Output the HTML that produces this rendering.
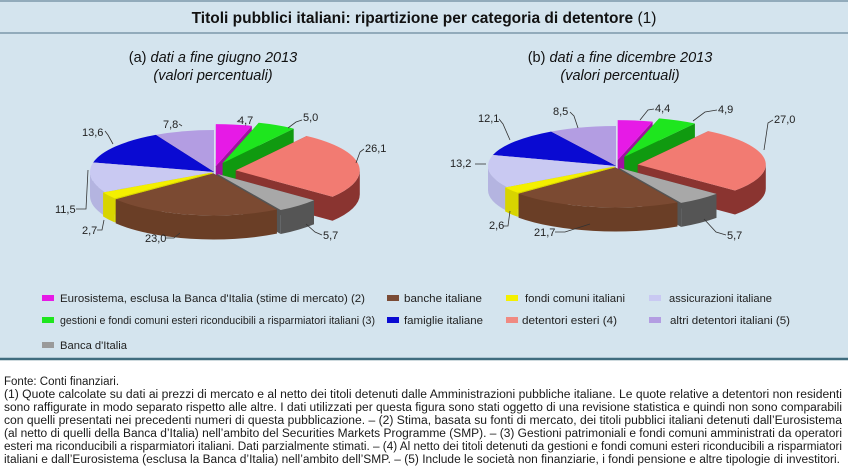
<!DOCTYPE html>
<html><head><meta charset="utf-8"><style>
html,body{margin:0;padding:0;background:#fff;}
svg{display:block;font-family:"Liberation Sans",Arial,sans-serif;}
</style></head><body>
<svg id="s" width="848" height="472" viewBox="0 0 848 472" xmlns="http://www.w3.org/2000/svg">
<rect x="0" y="0" width="848" height="359" fill="#d4e4ee"/>
<line x1="0" y1="1" x2="848" y2="1" stroke="#7d98aa" stroke-width="1.5"/>
<line x1="0" y1="33" x2="848" y2="33" stroke="#7d98aa" stroke-width="1.5"/>
<line x1="0" y1="359" x2="848" y2="359" stroke="#3f6c7e" stroke-width="2.5"/>
<text x="424" y="23" text-anchor="middle" font-size="15.5" font-weight="bold" fill="#111">Titoli pubblici italiani: ripartizione per categoria di detentore <tspan font-weight="normal">(1)</tspan></text>
<g font-size="14.5" fill="#111" text-anchor="middle">
<text x="213" y="62">(a) <tspan font-style="italic">dati a fine giugno 2013</tspan></text>
<text x="213" y="80" font-style="italic">(valori percentuali)</text>
<text x="620" y="62">(b) <tspan font-style="italic">dati a fine dicembre 2013</tspan></text>
<text x="620" y="80" font-style="italic">(valori percentuali)</text>
</g>
<g id="pies"></g>
<g font-size="11" fill="#222" stroke="#333" stroke-width="0.8">
<g stroke="none">
<text x="238" y="124">4,7</text><text x="303" y="121">5,0</text><text x="365" y="152">26,1</text>
<text x="323" y="239">5,7</text><text x="145" y="242">23,0</text><text x="82" y="234">2,7</text>
<text x="55" y="213">11,5</text><text x="82" y="136">13,6</text><text x="163" y="128">7,8</text>
<text x="655" y="112">4,4</text><text x="718" y="113">4,9</text><text x="774" y="123">27,0</text>
<text x="727" y="239">5,7</text><text x="534" y="236">21,7</text><text x="489" y="229">2,6</text>
<text x="450" y="167">13,2</text><text x="478" y="122">12,1</text><text x="553" y="115">8,5</text>
</g>
<g fill="none">
<polyline points="237,122 239,120"/><polyline points="302,120 296,122 288,128"/><polyline points="364,149 360,152 356,163"/>
<polyline points="322,235 315,232 306,224"/><polyline points="166,238 174,238 180,233"/><polyline points="97,230 102,230 104,220"/>
<polyline points="76,209 86,209 88,170"/><polyline points="105,131 108,135 113,144"/><polyline points="179,124 182,126"/>
<polyline points="654,109 648,110 640,120"/><polyline points="717,110 705,112 693,121"/><polyline points="773,120 768,123 764,150"/>
<polyline points="726,235 716,232 704,219"/><polyline points="555,232 565,232 590,224"/><polyline points="503,226 508,226 510,211"/>
<polyline points="475,164 486,164"/><polyline points="499,119 503,124 510,140"/><polyline points="570,112 574,116 578,128"/>
</g>
</g>
<g font-size="11" fill="#222">
<rect x="42" y="295" width="12" height="6" fill="#e61ae6"/><text x="60" y="302" textLength="305" lengthAdjust="spacingAndGlyphs">Eurosistema, esclusa la Banca d'Italia (stime di mercato) (2)</text>
<rect x="387" y="295" width="12" height="6" fill="#7a4b35"/><text x="404" y="302" textLength="78" lengthAdjust="spacingAndGlyphs">banche italiane</text>
<rect x="506" y="295" width="12" height="6" fill="#f4f000"/><text x="525" y="302" textLength="100" lengthAdjust="spacingAndGlyphs">fondi comuni italiani</text>
<rect x="649" y="295" width="12" height="6" fill="#c9c9f2"/><text x="669" y="302" textLength="103" lengthAdjust="spacingAndGlyphs">assicurazioni italiane</text>
<rect x="42" y="317" width="12" height="6" fill="#1ee61e"/><text x="60" y="324" textLength="315" lengthAdjust="spacingAndGlyphs">gestioni e fondi comuni esteri riconducibili a risparmiatori italiani (3)</text>
<rect x="387" y="317" width="12" height="6" fill="#0a0ad2"/><text x="404" y="324" textLength="79" lengthAdjust="spacingAndGlyphs">famiglie italiane</text>
<rect x="506" y="317" width="12" height="6" fill="#f08a82"/><text x="522" y="324" textLength="95" lengthAdjust="spacingAndGlyphs">detentori esteri (4)</text>
<rect x="649" y="317" width="12" height="6" fill="#b39de2"/><text x="670" y="324" textLength="120" lengthAdjust="spacingAndGlyphs">altri detentori italiani (5)</text>
<rect x="42" y="342" width="12" height="6" fill="#9a9a9a"/><text x="60" y="349" textLength="67" lengthAdjust="spacingAndGlyphs">Banca d'Italia</text>
</g>
<g font-size="11.5" fill="#1a1a1a">
<text x="4" y="385">Fonte: Conti finanziari.</text>
<text x="4" y="398" textLength="838" lengthAdjust="spacingAndGlyphs">(1) Quote calcolate su dati ai prezzi di mercato e al netto dei titoli detenuti dalle Amministrazioni pubbliche italiane. Le quote relative a detentori non residenti</text>
<text x="4" y="411" textLength="838" lengthAdjust="spacingAndGlyphs">sono raffigurate in modo separato rispetto alle altre. I dati utilizzati per questa figura sono stati oggetto di una revisione statistica e quindi non sono comparabili</text>
<text x="4" y="424" textLength="838" lengthAdjust="spacingAndGlyphs">con quelli presentati nei precedenti numeri di questa pubblicazione. – (2) Stima, basata su fonti di mercato, dei titoli pubblici italiani detenuti dall’Eurosistema</text>
<text x="4" y="437" textLength="838" lengthAdjust="spacingAndGlyphs">(al netto di quelli della Banca d’Italia) nell’ambito del Securities Markets Programme (SMP). – (3) Gestioni patrimoniali e fondi comuni amministrati da operatori</text>
<text x="4" y="450" textLength="838" lengthAdjust="spacingAndGlyphs">esteri ma riconducibili a risparmiatori italiani. Dati parzialmente stimati. – (4) Al netto dei titoli detenuti da gestioni e fondi comuni esteri riconducibili a risparmiatori</text>
<text x="4" y="463" textLength="836" lengthAdjust="spacingAndGlyphs">italiani e dall’Eurosistema (esclusa la Banca d’Italia) nell’ambito dell’SMP. – (5) Include le società non finanziarie, i fondi pensione e altre tipologie di investitori.</text>
</g>
</svg>
<script>
(function(){
var cols=[["#e61ae6","#a010a0"],["#1ee61e","#109a10"],["#f27b72","#8a3430"],["#a8a8a8","#555555"],["#7b4a32","#6a3e26"],["#f4f000","#d8d400"],["#c9c9f2","#b4b4e0"],["#0a0ad2","#05057a"],["#b39de2","#8a76b8"]];
var ex=[12,20,22,5,3,2,0,0,0];
function pie(cx,cy,rx,ry,d,vals){
  var tot=vals.reduce(function(a,b){return a+b},0),a=-90,sl=[];
  vals.forEach(function(v,i){var a1=a+v/tot*360;var m=(a+a1)/2*Math.PI/180;
    sl.push({a0:a,a1:a1,i:i,m:m,ox:cx+ex[i]*Math.cos(m),oy:cy+ex[i]*Math.sin(m)*0.5});a=a1;});
  var order=sl.slice().sort(function(p,q){return Math.sin(p.m)-Math.sin(q.m)});
  var out="";
  order.forEach(function(s){
    var c=s.ox,e=s.oy;
    function P(deg,dy){var r=deg*Math.PI/180;return (c+rx*Math.cos(r)).toFixed(1)+","+(e+ry*Math.sin(r)+(dy||0)).toFixed(1);}
    var col=cols[s.i];
    // radial faces
    [s.a0,s.a1].forEach(function(g){out+='<path d="M'+c+','+e+' L'+P(g)+' L'+P(g,d)+' L'+c+','+(e+d)+'Z" fill="'+col[1]+'"/>';});
    // outer wall front part
    var st=Math.max(s.a0,0),en=Math.min(s.a1,180);
    if(en>st){var lg=(en-st)>180?1:0;
      out+='<path d="M'+P(st)+' A'+rx+','+ry+' 0 '+lg+' 1 '+P(en)+' L'+P(en,d)+' A'+rx+','+ry+' 0 '+lg+' 0 '+P(st,d)+'Z" fill="'+col[1]+'"/>';}
    var lg2=(s.a1-s.a0)>180?1:0;
    out+='<path d="M'+c+','+e+' L'+P(s.a0)+' A'+rx+','+ry+' 0 '+lg2+' 1 '+P(s.a1)+'Z" fill="'+col[0]+'"/>';
  });
  return out;
}
var g=document.getElementById("pies");
g.innerHTML=pie(214,172,124,42,24,[4.7,5.0,26.1,5.7,23.0,2.7,11.5,13.6,7.8])+pie(616,166,128,40,24,[4.4,4.9,27.0,5.7,21.7,2.6,13.2,12.1,8.5]);
})();
</script>
</body></html>
